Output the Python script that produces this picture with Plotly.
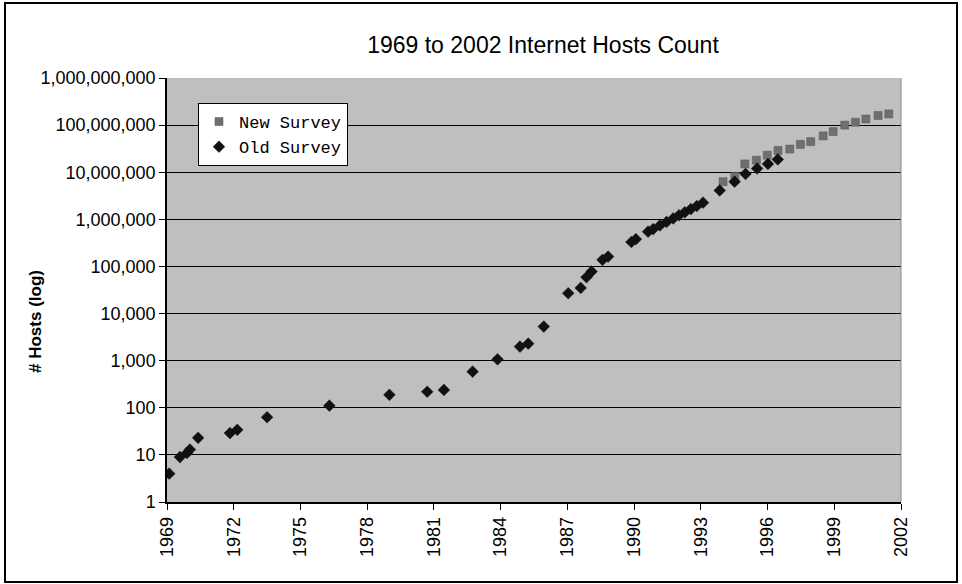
import plotly.graph_objects as go

# ---- data ----
old_years = [1969.1, 1969.58, 1969.9, 1970.03, 1970.4, 1971.83, 1972.16, 1973.5, 1976.3,
             1979.0, 1980.7, 1981.45, 1982.74, 1983.86, 1984.87, 1985.24, 1985.94,
             1987.04, 1987.6, 1987.86, 1988.09, 1988.58, 1988.83, 1989.88, 1990.08,
             1990.63, 1990.86, 1991.16, 1991.46, 1991.76, 1992.02, 1992.28, 1992.55,
             1992.82, 1993.10, 1993.85, 1994.52, 1995.01, 1995.53, 1996.02, 1996.46]
old_hosts = [4, 9, 11, 13, 23, 29, 34, 63, 111,
             188, 219, 239, 585, 1070, 1990, 2300, 5300,
             27000, 35000, 59000, 78000, 138000, 162000, 330000, 380000,
             548000, 622000, 742000, 881000, 1045000, 1220000, 1410000, 1650000,
             1920000, 2260000, 4100000, 6300000, 9200000, 12000000, 15000000, 18700000]

new_years = [1994.0, 1994.53, 1994.98, 1995.5, 1995.99, 1996.47, 1997.0, 1997.48,
             1997.94, 1998.5, 1998.95, 1999.47, 1999.95, 2000.42, 2000.97, 2001.45]
new_hosts = [6300000, 8100000, 15000000, 18000000, 23000000, 29000000, 31000000, 39000000,
             44500000, 59000000, 73000000, 100000000, 115000000, 135000000, 160000000, 173000000]

x_ticks = [1969, 1972, 1975, 1978, 1981, 1984, 1987, 1990, 1993, 1996, 1999, 2002]
x_tick_labels = [str(v) for v in x_ticks]
y_ticks = [1, 10, 100, 1000, 10000, 100000, 1000000, 10000000, 100000000, 1000000000]
y_tick_labels = ["1", "10", "100", "1,000", "10,000", "100,000", "1,000,000",
                 "10,000,000", "100,000,000", "1,000,000,000"]

title_text = "1969 to 2002 Internet Hosts Count"
y_title = "# Hosts (log)"

W, H = 962, 584
L, R, T, B = 167, 901, 78, 502

def px(xp):
    return (xp - L) / (R - L)

def py(yp):
    return (B - yp) / (B - T)

fig = go.Figure()
fig.add_trace(go.Scatter(
    x=new_years, y=new_hosts, mode="markers", name="New Survey",
    marker=dict(symbol="square", size=8, color="#6f6f6f",
                line=dict(color="#555555", width=0.5))))
fig.add_trace(go.Scatter(
    x=old_years, y=old_hosts, mode="markers", name="Old Survey",
    marker=dict(symbol="diamond", size=9, color="#111111",
                line=dict(color="#111111", width=0.5))))

fig.update_layout(
    width=W, height=H,
    margin=dict(l=L, r=W - R, t=T, b=H - B, pad=0, autoexpand=False),
    paper_bgcolor="white",
    plot_bgcolor="#bfbfbf",
    font=dict(family="Arial, Liberation Sans, sans-serif", color="black"),
    title=dict(text=title_text, x=543 / W, xanchor="center", xref="container",
               y=1 - 45 / H, yanchor="middle", yref="container",
               font=dict(size=23, family="Arial, Liberation Sans, sans-serif", color="black")),
    showlegend=True,
    legend=dict(x=px(198), y=py(103), xanchor="left", yanchor="top",
                bgcolor="white", bordercolor="black", borderwidth=1,
                font=dict(family="Courier New, Liberation Mono, monospace", size=17, color="black"),
                tracegroupgap=0),
    xaxis=dict(range=[1969, 2002], tickmode="array", tickvals=x_ticks, ticktext=x_tick_labels,
               tickangle=-90, ticks="outside", ticklen=6, tickcolor="black", tickwidth=1,
               showline=True, linecolor="black", linewidth=1.5, showgrid=False, zeroline=False,
               tickfont=dict(size=18, family="Arial, Liberation Sans, sans-serif", color="black")),
    yaxis=dict(type="log", range=[0, 9], tickmode="array", tickvals=y_ticks, ticktext=y_tick_labels,
               ticks="outside", ticklen=6, tickcolor="black", tickwidth=1,
               showline=True, linecolor="black", linewidth=1.5,
               showgrid=True, gridcolor="black", gridwidth=1.2, zeroline=False,
               tickfont=dict(size=18, family="Arial, Liberation Sans, sans-serif", color="black")),
    annotations=[dict(text="<b>" + y_title + "</b>", xref="paper", yref="paper",
                      x=px(35), y=py(322), xanchor="center", yanchor="middle",
                      textangle=-90, showarrow=False,
                      font=dict(size=17, family="Arial, Liberation Sans, sans-serif", color="black"))],
    shapes=[dict(type="rect", xref="paper", yref="paper",
                 x0=px(5), x1=px(957), y0=py(582), y1=py(3),
                 line=dict(color="black", width=2), fillcolor="rgba(0,0,0,0)", layer="below"),
            dict(type="line", xref="paper", yref="paper", x0=1, x1=1, y0=0, y1=1,
                 line=dict(color="#8a8a8a", width=1))],
)

fig.write_html("out.html",
               config={"displayModeBar": False},
               post_script="document.body.style.margin='0';document.body.style.overflow='hidden';")
